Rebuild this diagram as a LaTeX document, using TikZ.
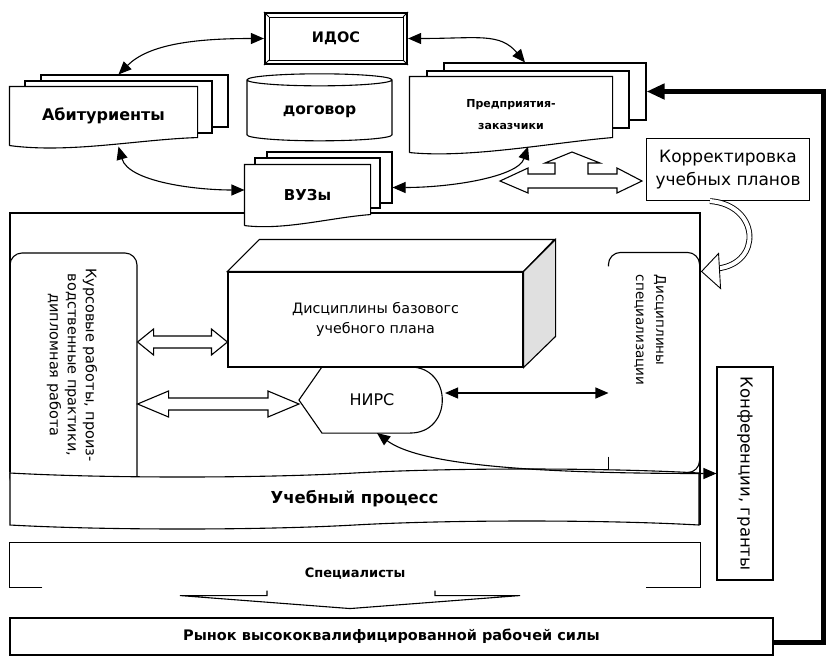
\documentclass[tikz,border=0pt]{standalone}
\usepackage{fontspec}
\setmainfont{DejaVu Sans}
\usetikzlibrary{arrows.meta, shapes.geometric, shapes.symbols, calc, positioning}

\begin{document}
\begin{tikzpicture}[x=1pt, y=-1pt, line width=1.1pt,
    >={Triangle[length=13pt,width=11pt]},
    box/.style={draw, fill=white, inner sep=0pt, align=center},
    sheet/.style={draw, fill=white, inner sep=0pt},
    page/.style={fill=white, inner sep=0pt, align=center},
    bigfont/.style={font=\bfseries\fontsize{#1}{18}\selectfont},
    bigfont/.default=15.5,
    midfont/.style={font=\bfseries\fontsize{11}{22}\selectfont},
    plainfont/.style={font=\fontsize{14.3}{20}\selectfont, align=center},
    hollow/.style={fill=white, to path={-- ++(#1,-13) -- ++(0,7) -- ($(\tikztotarget)+(-#1,-6)$) -- ++(0,-7) -- (\tikztotarget) -- ++(-#1,13) -- ++(0,-7) -- ($(\tikztostart)+(#1,6)$) -- ++(0,7) -- cycle}}]
    \useasboundingbox (0,0) rectangle (826,656);

    % frame of the teaching block
    \draw (10,472) -- (10,213) -- (700,213) -- (700,525);

    \node[draw, rounded corners=12pt, minimum width=127pt, minimum height=237pt] (kurs) at (73.5,371.5) {};
    \node[plainfont, rotate=-90, font=\fontsize{14.5}{18}\selectfont] (kurstxt) at (72,365) {Курсовые работы, произ-\\водственные практики,\\дипломная работа};

    \node[minimum width=90pt, minimum height=219pt, inner sep=0pt] (spec) at (654,362.5) {};
    \draw[rounded corners=12pt] ([yshift=-14pt]spec.north west) -- (spec.north west) -- (spec.north east) -- (spec.south east) -- ([xshift=-40pt]spec.south east);
    \draw ([yshift=16pt]spec.south west) -- (spec.south west);
    \node[plainfont, rotate=-90, anchor=west, align=left, font=\fontsize{13.5}{20}\selectfont] (spectxt) at (650,271) {Дисциплины\\специализации};

    % block of the basic plan
    \node[draw, fill=white, minimum width=295pt, minimum height=95pt, plainfont] (base) at (375.5,319.5) {Дисциплины базовогс\\учебного плана};
    \draw[fill=white] (base.north west) -- ++(32,-32) -- ++(295,0) -- (base.north east) -- cycle;
    \draw[fill=black!12] (base.north east) -- ++(32,-32) -- ++(0,97) -- (base.south east) -- cycle;

    \node[font=\fontsize{16}{20}\selectfont, minimum width=145pt, minimum height=65pt] (nirs) at (372,400) {НИРС};
    \draw (nirs.west) -- ([xshift=23pt]nirs.north west) -- ([xshift=-35pt]nirs.north east) .. controls ([xshift=8pt]nirs.north east) and ([xshift=8pt]nirs.south east) .. ([xshift=-35pt]nirs.south east) -- ([xshift=23pt]nirs.south west) -- cycle;

    \coordinate (h1) at (kurs.east |- 0,342);
    \coordinate (h2) at (base.west |- 0,342);
    \coordinate (h3) at (kurs.east |- 0,404);
    \coordinate (h4) at (nirs.west |- 0,404);
    \draw[hollow=16] (h1) to (h2);
    \draw[hollow=31] (h3) to (h4);

    \node[tape, draw, fill=white, minimum width=689pt, minimum height=60pt, tape bend top=in and out, tape bend bottom=in and out, tape bend height=8pt, bigfont=16.5] (proc) at (354.5,499) {Учебный процесс};

    % top row
    \node[draw, fill=white, line width=2.2pt, minimum width=142pt, minimum height=51pt, bigfont=14.5] (idos) at (336,38.5) {ИДОС};
    \draw[line width=.8pt] ([shift={(5pt,-5pt)}]idos.north west) rectangle ([shift={(-5pt,5pt)}]idos.south east);
    \foreach \c/\s in {north west/{(5pt,-5pt)}, north east/{(-5pt,-5pt)}, south west/{(5pt,5pt)}, south east/{(-5pt,5pt)}}
        \draw[line width=.8pt] (idos.\c) -- ([shift=\s]idos.\c);

    \node[sheet, minimum width=187pt, minimum height=52pt] (abit3) at (134.5,101) {};
    \node[sheet, minimum width=187pt, minimum height=52pt] (abit2) at (118.5,107) {};
    \node[page, minimum width=187pt, minimum height=58pt, bigfont=16] (abit) at (103.5,116) {Абитуриенты};
    \draw (abit.south west) -- (abit.north west) -- (abit.north east) -- ([yshift=8pt]abit.south east) .. controls ([xshift=-60pt,yshift=6pt]abit.south east) and ([xshift=60pt,yshift=-8pt]abit.south west) .. (abit.south west);

    \node[cylinder, shape border rotate=90, aspect=0.15, draw, fill=white, minimum width=145pt, minimum height=67pt, bigfont] (dog) at (319.5,111.5) {договор};

    \node[sheet, minimum width=202pt, minimum height=57pt] (pred3) at (545,91.5) {};
    \node[sheet, minimum width=202pt, minimum height=57pt] (pred2) at (528,99.5) {};
    \node[page, minimum width=202pt, minimum height=75pt, midfont] (pred) at (511,114.5) {Предприятия-\\заказчики};
    \draw (pred.south west) -- (pred.north west) -- (pred.north east) -- ([yshift=15pt]pred.south east) .. controls ([xshift=-60pt,yshift=10pt]pred.south east) and ([xshift=60pt,yshift=-6pt]pred.south west) .. (pred.south west);

    \node[sheet, minimum width=125pt, minimum height=51pt] (vuz3) at (329.5,177.5) {};
    \node[sheet, minimum width=125pt, minimum height=50pt] (vuz2) at (317.5,183) {};
    \node[page, minimum width=125pt, minimum height=60pt, bigfont=15] (vuz) at (307.5,195) {ВУЗы};
    \draw (vuz.south west) -- (vuz.north west) -- (vuz.north east) -- ([yshift=11pt]vuz.south east) .. controls ([xshift=-40pt,yshift=8pt]vuz.south east) and ([xshift=40pt,yshift=-5pt]vuz.south west) .. (vuz.south west);

    \node[box, minimum width=163pt, minimum height=62pt, font=\fontsize{17}{23}\selectfont] (korr) at (728,169.5) {Корректировка\\учебных планов};

    % wide arrow under the customers
    \draw[fill=white] (500,181) -- (528,168) -- (528,174) -- (555,174) -- (555,163) -- (545,163) -- (572,152) -- (600,163) -- (588,163) -- (588,174) -- (617,174) -- (617,168) -- (642,181) -- (617,193) -- (617,188) -- (528,188) -- (528,193) -- cycle;

    \coordinate (kt) at ([shift={(2pt,-19pt)}]spec.north east);
    \draw[double, double distance=4pt, line width=.9pt] ([xshift=-18pt]korr.south) .. controls +(50,4) and +(45,-5) .. ([shift={(16pt,3pt)}]kt);
    \draw[fill=white, line width=.9pt] (kt) -- ++(17,-18) -- ++(2,35) -- cycle;

    % bottom
    \node[font=\bfseries\fontsize{13}{17}\selectfont, minimum width=690pt, minimum height=44pt, inner sep=0pt, text height=24pt, text depth=0pt] (spc) at (355,565) {Специалисты};
    \draw ([xshift=33pt]spc.south west) -- (spc.south west) -- (spc.north west) -- (spc.north east) -- (spc.south east) -- ([xshift=-55pt]spc.south east);
    \draw ([shift={(-88pt,-3pt)}]spc.south) -- ([shift={(-88pt,-8pt)}]spc.south) -- ([shift={(-175pt,-8pt)}]spc.south) -- ([shift={(-5pt,-21pt)}]spc.south) -- ([shift={(165pt,-8pt)}]spc.south) -- ([shift={(80pt,-8pt)}]spc.south) -- ([shift={(80pt,-3pt)}]spc.south);

    \node[draw, minimum width=763pt, minimum height=37pt, font=\bfseries\fontsize{14.5}{20}\selectfont] (market) at (391.5,636.5) {Рынок высококвалифицированной рабочей силы};
    \node[draw, rotate=-90, minimum width=213pt, minimum height=56pt, font=\fontsize{16.5}{20}\selectfont] (conf) at (745,473.5) {Конференции, гранты};

    \coordinate (m1) at ([yshift=-6pt]market.east);
    \draw[line width=4.5pt, -{Triangle[length=18pt,width=15pt]}] (m1) -- ++(50,0) |- (pred3.east);

    % links
    \draw[<->] (idos.west) .. controls +(-70,0) and +(30,-30) .. ([xshift=-16pt]abit3.north);
    \draw[<->] (idos.east) .. controls +(70,0) and +(-25,-30) .. ([xshift=-20pt]pred3.north);
    \draw[<->] ([shift={(15pt,-1pt)}]abit.south) .. controls +(10,35) and +(-50,0) .. ([yshift=5pt]vuz.west);
    \draw[<->] ([yshift=-10pt]vuz3.east) .. controls +(60,0) and +(-10,30) .. ([shift={(17pt,6pt)}]pred.south);
    \coordinate (n1) at ([yshift=7pt]nirs.east);
    \draw[<->] (n1) -- (n1 -| spec.west);
    \draw[<->] ([xshift=5pt]nirs.south) .. controls +(40,30) and +(-200,0) .. (conf.south);
\end{tikzpicture}
\end{document}
